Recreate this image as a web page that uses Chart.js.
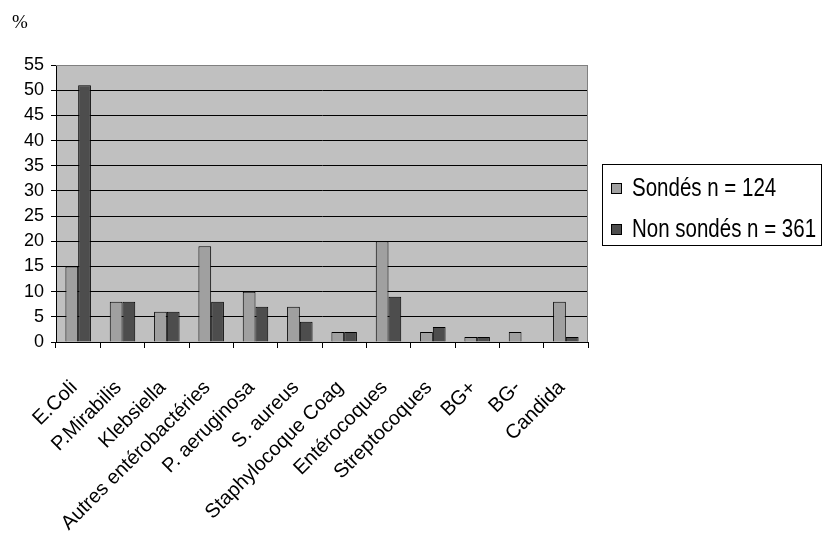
<!DOCTYPE html>
<html>
<head>
<meta charset="utf-8">
<script src="https://cdn.jsdelivr.net/npm/chart.js@4/dist/chart.umd.min.js"></script>
<style>
  html, body { margin: 0; padding: 0; background: #fff; }
  #wrap { position: relative; width: 824px; height: 536px; }
  #pct { position: absolute; left: 12px; top: 11px; font: 19px "Liberation Serif", "Times New Roman", serif; color: #000; }
</style>
</head>
<body>
<div id="wrap">
  <canvas id="c" width="824" height="536"></canvas>
  <div id="pct">%</div>
</div>
<script>
// Germs isolated, share (%) among catheterised vs non-catheterised patients
const categories = [
  "E.Coli", "P.Mirabilis", "Klebsiella", "Autres entérobactéries", "P. aeruginosa",
  "S. aureus", "Staphylocoque Coag", "Entérocoques", "Streptocoques", "BG+", "BG-", "Candida"
];
const sondes    = [15, 8, 6, 19, 10, 7, 2, 20, 2, 1, 2, 8];
const nonSondes = [51, 8, 6, 8, 7, 4, 2, 9, 3, 1, 0, 1];
const seriesLabels = ["Sondés n = 124", "Non sondés n = 361"];
const yTicks = [0, 5, 10, 15, 20, 25, 30, 35, 40, 45, 50, 55];

const FONT = "'Liberation Sans', Arial, sans-serif";

// grey plot background and light top/right frame
const plotBg = {
  id: 'plotBg',
  beforeDraw(chart) {
    const { ctx, chartArea: a } = chart;
    ctx.save();
    ctx.fillStyle = '#C0C0C0';
    ctx.fillRect(a.left, a.top, a.right - a.left, a.bottom - a.top);
    ctx.restore();
  },
  afterDraw(chart) {
    const { ctx, chartArea: a } = chart;
    ctx.save();
    ctx.strokeStyle = '#808080';
    ctx.lineWidth = 1;
    ctx.beginPath();
    ctx.moveTo(a.left, a.top + 0.5);
    ctx.lineTo(a.right - 0.5, a.top + 0.5);
    ctx.lineTo(a.right - 0.5, a.bottom);
    ctx.stroke();
    ctx.restore();
  }
};

// boxed legend on the right, condensed lettering
const boxLegend = {
  id: 'boxLegend',
  afterDraw(chart) {
    const { ctx } = chart;
    const x = 602, y = 164, w = 220, h = 82;
    ctx.save();
    ctx.fillStyle = '#fff';
    ctx.fillRect(x, y, w, h);
    ctx.strokeStyle = '#000';
    ctx.lineWidth = 1;
    ctx.strokeRect(x + 0.5, y + 0.5, w - 1, h - 1);
    ctx.textBaseline = 'middle';
    chart.data.datasets.forEach((ds, i) => {
      const cy = y + 24 + i * 41;
      ctx.fillStyle = ds.backgroundColor;
      ctx.fillRect(x + 9, cy - 5, 11, 11);
      ctx.strokeStyle = '#000';
      ctx.strokeRect(x + 9.5, cy - 4.5, 10, 10);
      ctx.save();
      ctx.translate(x + 30, cy + 1);
      ctx.scale(0.82, 1);
      ctx.font = '25px ' + FONT;
      ctx.fillStyle = '#000';
      ctx.fillText(ds.label, 0, 0);
      ctx.restore();
    });
    ctx.restore();
  }
};

new Chart(document.getElementById('c'), {
  type: 'bar',
  data: {
    labels: categories,
    datasets: [
      { label: seriesLabels[0], data: sondes, backgroundColor: '#A0A0A0', borderColor: '#000', borderWidth: 1 },
      { label: seriesLabels[1], data: nonSondes, backgroundColor: '#4D4D4D', borderColor: '#000', borderWidth: 1 }
    ]
  },
  options: {
    responsive: false,
    animation: false,
    layout: { padding: { left: 0, right: 236, top: 65, bottom: 0 } },
    datasets: { bar: { categoryPercentage: 0.575, barPercentage: 1 } },
    plugins: { legend: { display: false }, tooltip: { enabled: false } },
    scales: {
      x: {
        grid: { display: true, drawOnChartArea: false, drawTicks: true, tickLength: 6, color: '#000', offset: true },
        border: { color: '#000', width: 1 },
        ticks: {
          color: '#000', font: { family: FONT, size: 20 },
          minRotation: 45, maxRotation: 45, autoSkip: false, padding: 28, labelOffset: -4
        },
        afterFit(scale) { scale.height = 536 - 342; }
      },
      y: {
        min: 0, max: 55,
        afterBuildTicks(scale) { scale.ticks = yTicks.map(v => ({ value: v })); },
        grid: {
          color: c => (c.tick && c.tick.value === 55) ? '#808080' : '#000',
          tickColor: '#000', tickLength: 5, drawTicks: true
        },
        border: { color: '#000', width: 1 },
        ticks: { color: '#000', font: { family: FONT, size: 18 }, padding: 7 },
        afterFit(scale) { scale.width = 56; }
      }
    }
  },
  plugins: [plotBg, boxLegend]
});
</script>
</body>
</html>
